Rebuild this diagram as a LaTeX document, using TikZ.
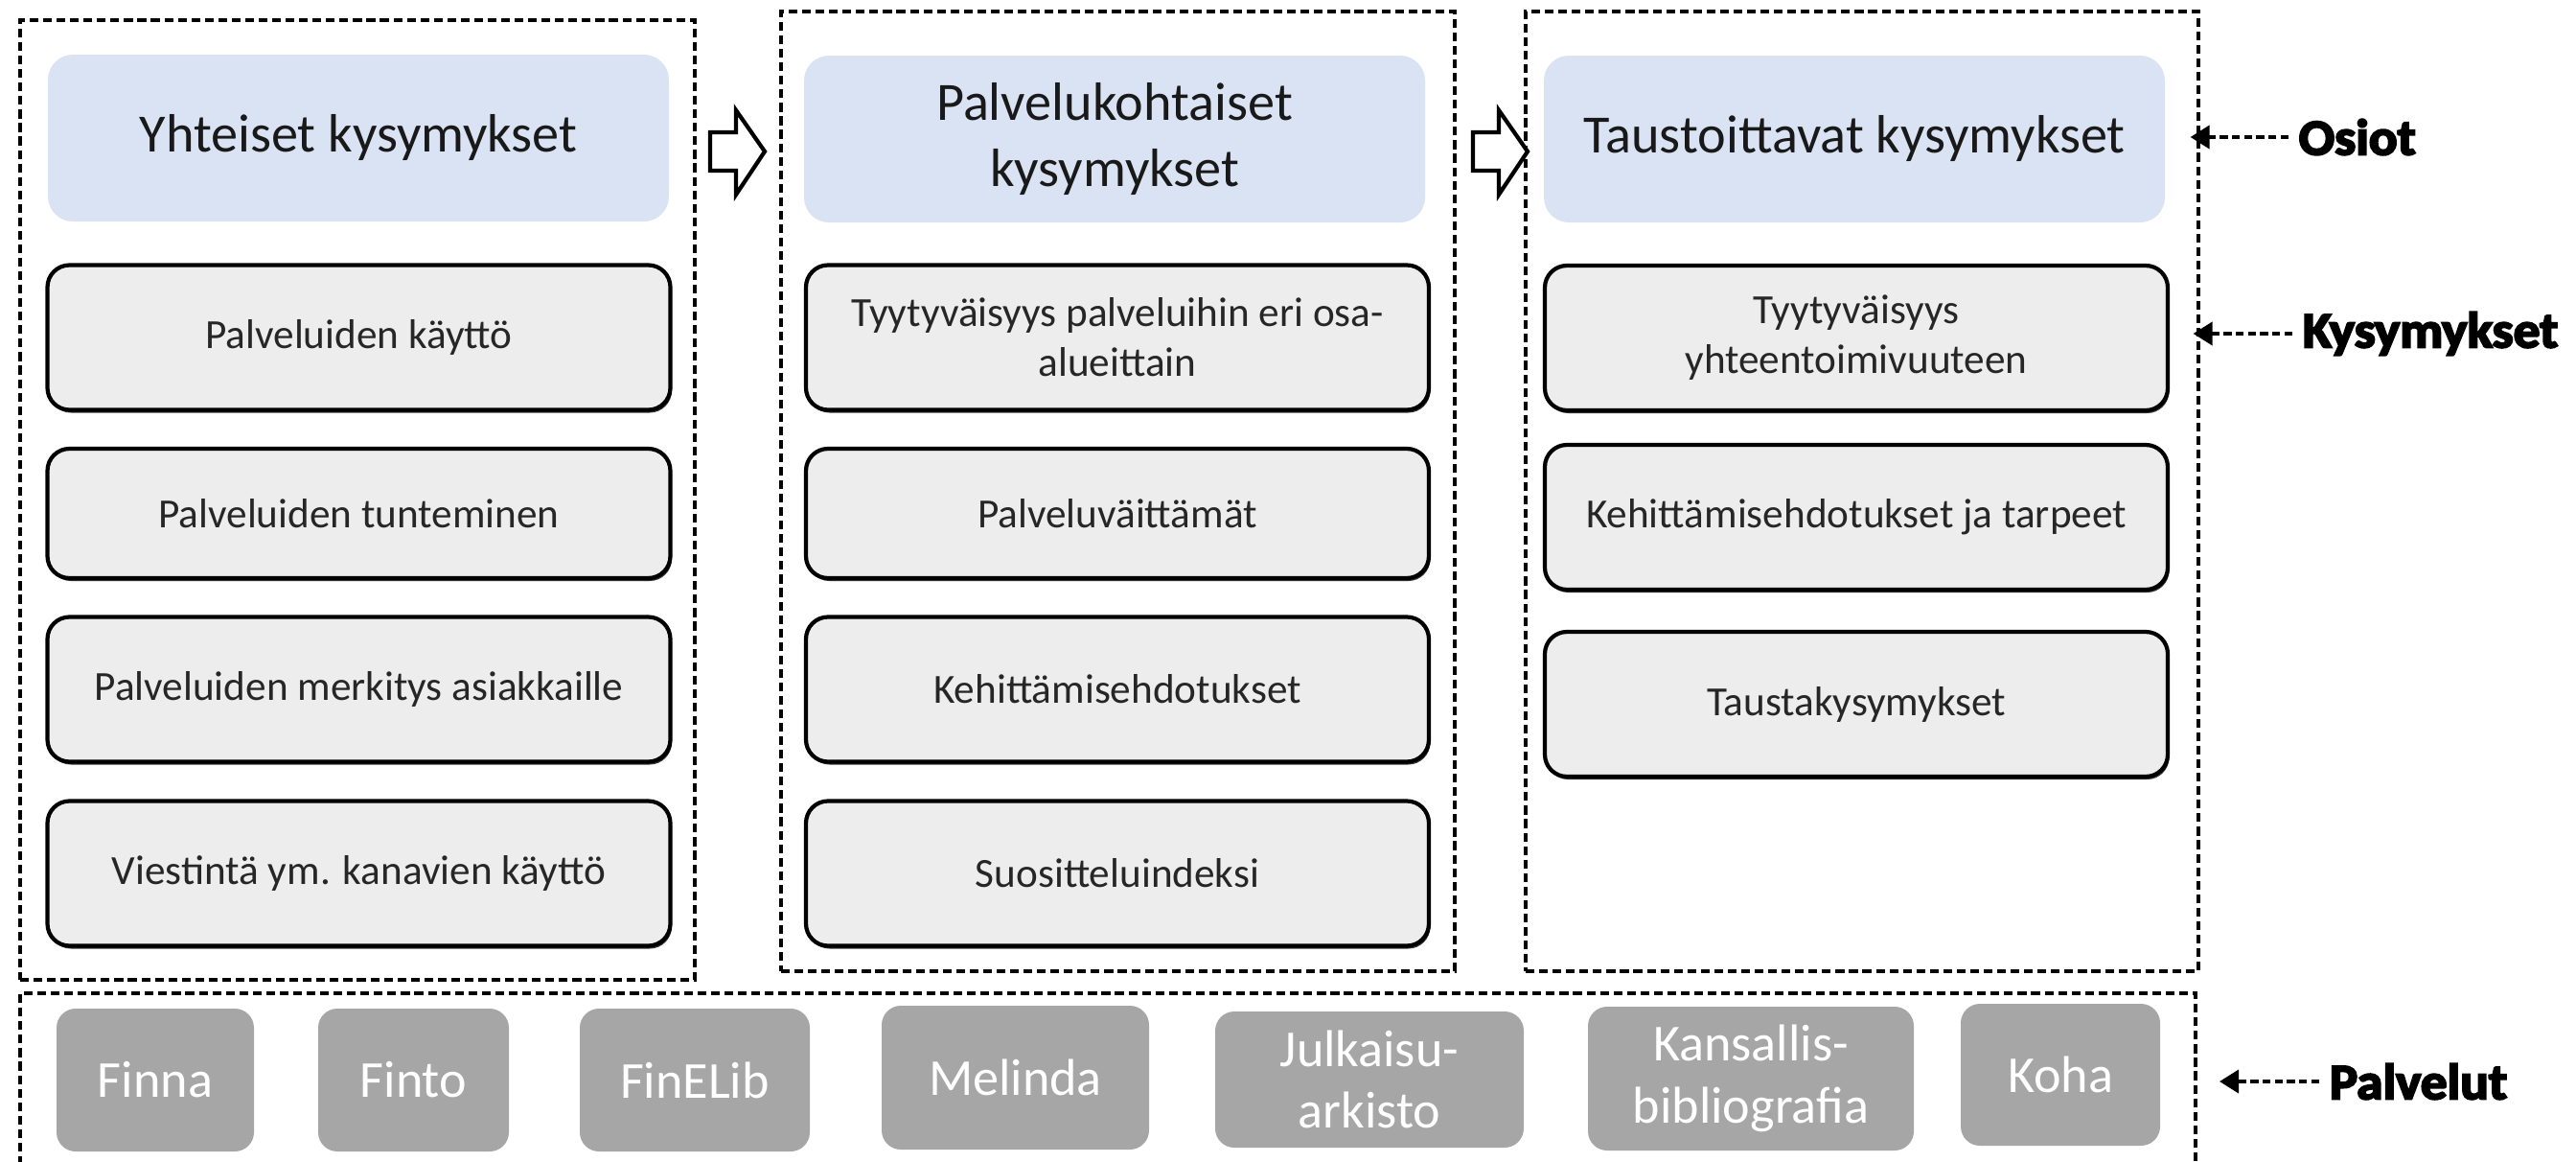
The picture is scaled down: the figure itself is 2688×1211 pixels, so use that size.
\documentclass[tikz,border=0pt]{standalone}
\usepackage{fontspec}
\setmainfont{Carlito}
\newfontfamily\tagfont{Carlito}[BoldFeatures={FakeBold=4,FakeStretch=1.05}]
\usepackage{tikz}
\usetikzlibrary{arrows.meta,shapes,shadows,fit}

\definecolor{headblue}{HTML}{DAE3F3}
\definecolor{itemgray}{HTML}{EDEDED}
\definecolor{servgray}{HTML}{A6A6A6}

\begin{document}
\begin{tikzpicture}[x=0.1mm,y=-0.1mm,
			part box/.style={draw,line width=0.9pt,dash pattern=on 2.6pt off 1.4pt,inner sep=0pt},
			head box/.style={rounded corners=2.6mm,fill=headblue,minimum width=64.8mm,minimum height=17.4mm,align=center,text=black!90,font=\fontsize{16}{19.5}\selectfont},
			item box/.style={draw,line width=1.2pt,rounded corners=2.3mm,fill=itemgray,minimum width=65mm,minimum height=15.1mm,align=center,text=black!85,font=\fontsize{12.3}{14.8}\selectfont,
				drop shadow={shadow xshift=0.15mm,shadow yshift=-0.3mm,fill=black,opacity=0.8}},
			service box/.style={rounded corners=2mm,fill=servgray,align=center,text=white,font=\fontsize{15.4}{18.4}\selectfont},
			flow arrow/.style={draw,line width=1.2pt,fill=white,line join=miter},
			tag/.style={anchor=west,inner sep=0pt,font=\tagfont\bfseries\fontsize{15}{18}\selectfont},
			tag arrow/.style={line width=1.1pt,dash pattern=on 2.4pt off 1.2pt,-{Triangle[length=2mm,width=2.4mm]}}
			]

			\useasboundingbox (0,0) rectangle (2688,1211);

			% osiot
			\node[part box,fit={(21,21) (725,1022)}] (part1) {};
			\node[part box,fit={(815,12) (1518,1013)}] (part2) {};
			\node[part box,fit={(1592,12) (2294,1013)}] (part3) {};
			\draw[part box] (21,1215) |- (2291,1036) -- (2291,1215);

			\node[head box] at (374,144) (head1) {Yhteiset kysymykset};
			\node[head box] at (1163,145) (head2) {Palvelukohtaiset\\kysymykset};
			\node[head box] at (1935,145) (head3) {Taustoittavat kysymykset};

			\foreach \ax in {741,1537} {
				\draw[flow arrow] (\ax,138) -- ++(27,0) -- ++(0,-23) -- ++(30,43) -- ++(-30,45) -- ++(0,-25) -- ++(-27,0) -- cycle;
			}

			% kysymykset
			\node[item box] at (374.5,352) (q11) {Palveluiden käyttö};
			\node[item box,minimum height=13.5mm] at (374.5,535.5) (q12) {Palveluiden tunteminen};
			\node[item box] at (374.5,719) (q13) {Palveluiden merkitys asiakkaille};
			\node[item box] at (374.5,911) (q14) {Viestintä ym. kanavien käyttö};

			\node[item box] at (1166,352) (q21) {Tyytyväisyys palveluihin eri osa-\\alueittain};
			\node[item box,minimum height=13.5mm] at (1166,535.5) (q22) {Palveluväittämät};
			\node[item box] at (1166,719) (q23) {Kehittämisehdotukset};
			\node[item box] at (1166,911) (q24) {Suositteluindeksi};

			\node[item box] at (1937,352.5) (q31) {Tyytyväisyys\\yhteentoimivuuteen};
			\node[item box] at (1937,539.5) (q32) {Kehittämisehdotukset ja tarpeet};
			\node[item box] at (1937,734.5) (q33) {Taustakysymykset};

			% palvelut
			\foreach \name/\cx/\cy/\w/\h/\txt in {finna/162/1126.5/20.6/14.9/Finna, finto/431.5/1126.5/19.9/14.9/Finto,
				finelib/725/1126.5/24/14.9/FinELib, melinda/1059.5/1124/27.9/15/Melinda,
				julkaisu/1429/1126/32.2/14.2/Julkaisu-\\arkisto, kansallis/1827/1125/34/15/Kansallis-\\bibliografia,
				koha/2150/1121/20.8/14.8/Koha} {
				\node[service box,minimum width=\w mm,minimum height=\h mm] at (\cx,\cy) (\name) {\txt};
			}

			\node[tag] at (2398,143) (osiot) {Osiot};
			\node[tag] at (2402,348) (kysymykset) {Kysymykset};
			\node[tag] at (2430,1128) (palvelut) {Palvelut};
			\coordinate (palvelut end) at (2316,1128);

			\draw[tag arrow] ([xshift=-1mm]osiot.west) -- ([xshift=-1mm]part3.east |- osiot.west);
			\draw[tag arrow] ([xshift=-1mm]kysymykset.west) -- ([xshift=-0.7mm]part3.east |- kysymykset.west);
			\draw[tag arrow] ([xshift=-1mm]palvelut.west) -- (palvelut end);
		\end{tikzpicture}
\end{document}
